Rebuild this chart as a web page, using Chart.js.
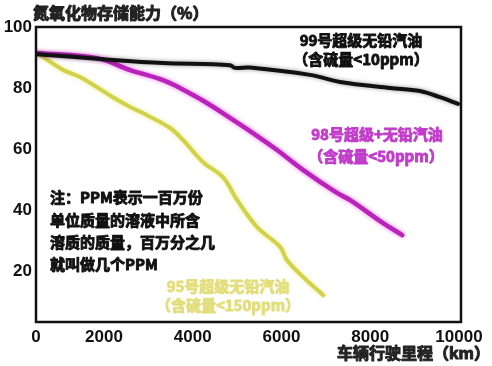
<!DOCTYPE html>
<html>
<head>
<meta charset="utf-8">
<script src="https://cdn.jsdelivr.net/npm/chart.js@4.4.1/dist/chart.umd.min.js"></script>
<style>
  html, body { margin: 0; padding: 0; background: #fff; }
  #wrap { width: 492px; height: 366px; }
</style>
</head>
<body>
<div id="wrap"><canvas id="noxChart" width="492" height="366"></canvas></div>
<script>
// values (km, %)
const fuel99 = [
  [490, 91.1], [2200, 89.2], [3330, 88.2], [4840, 87.5], [4950, 86.6], [5290, 86.7],
  [6640, 84.3], [7320, 82.0], [8450, 80.0], [9120, 79.0], [9570, 77.0], [9980, 74.8]
];
const fuel98 = [
  [490, 91.5], [1840, 89.8], [2590, 85.9], [3330, 82.6], [3710, 80.0], [4320, 75.1],
  [4840, 70.2], [5290, 65.9], [5900, 59.7], [6490, 53.1], [7250, 45.6], [7540, 43.3],
  [8290, 35.7], [8720, 31.8]
];
const fuel95 = [
  [490, 91.5], [1080, 85.9], [1460, 83.6], [2200, 77.0], [2590, 73.8], [2970, 71.1],
  [3490, 66.9], [3780, 63.0], [4230, 55.7], [4680, 50.8], [5000, 43.3], [5450, 34.4],
  [5970, 27.9], [6120, 23.6], [6490, 18.0], [6940, 12.1]
];
const xTickValues = [468, 2000, 4000, 6000, 8000, 10000];
const xTickLabels = ['0', '2000', '4000', '6000', '8000', '10000'];
const yTickValues = [20, 40, 60, 80, 100];

const cjk = '"Noto Sans CJK SC", "Noto Sans", sans-serif';
const digits = '"Liberation Sans", Arial, sans-serif';

function toPoints(arr) {
  return arr.map(p => ({ x: p[0], y: p[1] }));
}

// the CJK font only comes in a light weight here, so thicken it by stroking
function boldText(ctx, s, x, y, w) {
  ctx.lineWidth = w || 0.9;
  ctx.strokeStyle = ctx.fillStyle;
  ctx.lineJoin = 'round';
  ctx.strokeText(s, x, y);
  ctx.fillText(s, x, y);
}

const glow = {
  id: 'glow',
  beforeDatasetDraw(chart, args) {
    const ds = chart.data.datasets[args.index];
    chart.ctx.save();
    chart.ctx.shadowColor = ds.glowColor;
    chart.ctx.shadowBlur = 4;
  },
  afterDatasetDraw(chart) {
    chart.ctx.restore();
  }
};

const texts = {
  id: 'texts',
  afterDraw(chart) {
    const ctx = chart.ctx;
    const a = chart.chartArea;
    ctx.save();
    // frame
    ctx.strokeStyle = '#111';
    ctx.lineWidth = 2.5;
    ctx.strokeRect(a.left, a.top, a.right - a.left, a.bottom - a.top);

    ctx.textBaseline = 'middle';
    ctx.textAlign = 'left';
    ctx.fillStyle = '#222';
    ctx.font = 'bold 16px ' + cjk;
    boldText(ctx, '氮氧化物存储能力（%）', 33, 13, 1);
    ctx.textAlign = 'right';
    boldText(ctx, '车辆行驶里程（km）', 490, 353, 1);

    ctx.textAlign = 'center';
    ctx.font = 'bold 15px ' + cjk;
    ctx.fillStyle = '#111';
    boldText(ctx, '99号超级无铅汽油', 361, 40);
    boldText(ctx, '（含硫量<10ppm）', 361, 59);
    ctx.fillStyle = '#c23ccb';
    boldText(ctx, '98号超级+无铅汽油', 377, 134);
    boldText(ctx, '（含硫量<50ppm）', 376, 156);
    ctx.fillStyle = '#e3de7c';
    boldText(ctx, '95号超级无铅汽油', 228, 286);
    boldText(ctx, '（含硫量<150ppm）', 228, 305);

    ctx.textAlign = 'left';
    ctx.fillStyle = '#111';
    boldText(ctx, '注：PPM表示一百万份', 50, 197);
    boldText(ctx, '单位质量的溶液中所含', 50, 220);
    boldText(ctx, '溶质的质量，百万分之几', 50, 242);
    boldText(ctx, '就叫做几个PPM', 50, 264);
    ctx.restore();
  }
};

new Chart(document.getElementById('noxChart'), {
  type: 'line',
  data: {
    datasets: [
      { label: '99号', data: toPoints(fuel99), borderColor: '#111111', glowColor: 'rgba(0,0,0,0.4)', borderWidth: 4 },
      { label: '98号', data: toPoints(fuel98), borderColor: '#bb22bb', glowColor: 'rgba(230,110,230,0.9)', borderWidth: 4.5 },
      { label: '95号', data: toPoints(fuel95), borderColor: '#d2d24a', glowColor: 'rgba(235,235,140,0.9)', borderWidth: 4 }
    ]
  },
  options: {
    responsive: false,
    animation: false,
    events: [],
    layout: { padding: { top: 27, right: 31, left: 0, bottom: 0 } },
    elements: {
      point: { radius: 0 },
      line: { tension: 0.35, borderCapStyle: 'round', borderJoinStyle: 'round' }
    },
    plugins: { legend: { display: false }, tooltip: { enabled: false } },
    scales: {
      x: {
        type: 'linear',
        min: 468,
        max: 10045,
        afterBuildTicks: s => { s.ticks = xTickValues.map(v => ({ value: v })); },
        afterFit: s => { s.height = 44; },
        grid: { display: false, drawTicks: false },
        border: { display: false },
        ticks: {
          padding: 5,
          maxRotation: 0,
          autoSkip: false,
          color: '#111',
          font: { family: digits, size: 17, weight: 'bold' },
          callback: (v, i) => xTickLabels[i]
        }
      },
      y: {
        min: 3.3,
        max: 100,
        afterBuildTicks: s => { s.ticks = yTickValues.map(v => ({ value: v })); },
        afterFit: s => { s.width = 36; },
        grid: { display: false, drawTicks: false },
        border: { display: false },
        ticks: {
          padding: 4,
          color: '#111',
          font: { family: digits, size: 17, weight: 'bold' }
        }
      }
    }
  },
  plugins: [glow, texts]
});
</script>
</body>
</html>
